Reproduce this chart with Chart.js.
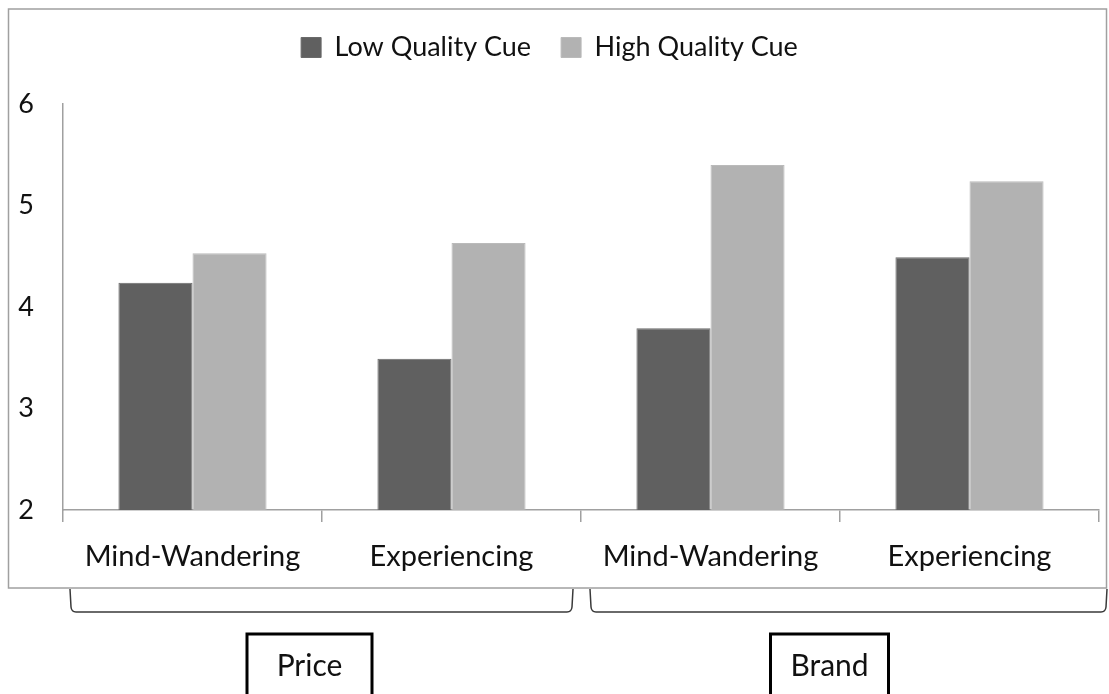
<!DOCTYPE html>
<html>
<head>
<meta charset="utf-8">
<script src="https://cdn.jsdelivr.net/npm/chart.js@4/dist/chart.umd.min.js"></script>
<style>
  html, body { margin: 0; padding: 0; background: #ffffff; }
  #wrap { width: 1109px; height: 694px; }
</style>
</head>
<body>
<div id="wrap"><canvas id="c" width="1109" height="694"></canvas></div>
<script>
// ---- data ----
const categories = ["Mind-Wandering", "Experiencing", "Mind-Wandering", "Experiencing"];
const lowQualityCue = [4.24, 3.49, 3.79, 4.49];
const highQualityCue = [4.53, 4.63, 5.40, 5.24];
const seriesNames = ["Low Quality Cue", "High Quality Cue"];
const groupLabels = ["Price", "Brand"];
const groupRanges = [[0, 1], [2, 3]];
const yTicks = [2, 3, 4, 5, 6];

const FONT = "Lato, 'Open Sans', sans-serif";
const TEXT = "#111111";
const AXIS = "#a0a0a0";

const framePlugin = {
  id: 'frame',
  afterInit(chart) {
    if (chart.legend) {
      const orig = chart.legend.fit;
      chart.legend.fit = function () { orig.call(this); this.height = 100; };
    }
  },
  beforeDraw(chart) {
    const ctx = chart.ctx;
    ctx.save();
    ctx.fillStyle = '#ffffff';
    ctx.fillRect(0, 0, chart.width, chart.height);
    ctx.strokeStyle = AXIS;
    ctx.lineWidth = 1.5;
    ctx.strokeRect(8.5, 9, 1098, 579);
    ctx.restore();
  },
  afterDraw(chart) {
    const ctx = chart.ctx;
    const xs = chart.scales.x;
    const half = (xs.getPixelForValue(1) - xs.getPixelForValue(0)) / 2;
    const boxOffsets = [-12, -19];
    const boxWidths = [125, 118];
    ctx.save();
    groupRanges.forEach((r, gi) => {
      const left = xs.getPixelForValue(r[0]) - half + (gi === 0 ? 7 : 9);
      const right = xs.getPixelForValue(r[1]) + half + (gi === 0 ? -8 : 8);
      const top = 589, bot = 612;
      ctx.strokeStyle = '#3a3a3a';
      ctx.lineWidth = 1.5;
      ctx.beginPath();
      ctx.moveTo(left, top);
      ctx.lineTo(left + 1, bot - 5);
      ctx.quadraticCurveTo(left + 1.5, bot, left + 6, bot);
      ctx.lineTo(right - 6, bot);
      ctx.quadraticCurveTo(right - 1.5, bot, right - 1, bot - 5);
      ctx.lineTo(right, top);
      ctx.stroke();
      // label box
      const cx = (left + right) / 2 + boxOffsets[gi];
      const w = boxWidths[gi];
      ctx.strokeStyle = '#000000';
      ctx.lineWidth = 3;
      ctx.strokeRect(cx - w / 2, 634, w, 80);
      ctx.fillStyle = TEXT;
      ctx.font = "30px " + FONT;
      ctx.textAlign = 'center';
      ctx.textBaseline = 'middle';
      ctx.fillText(groupLabels[gi], cx, 666);
    });
    ctx.restore();
  }
};

new Chart(document.getElementById('c'), {
  type: 'bar',
  data: {
    labels: categories,
    datasets: [
      { label: seriesNames[0], data: lowQualityCue, backgroundColor: '#606060', borderColor: '#6a6a6a', borderWidth: 1, barPercentage: 1, categoryPercentage: 0.572 },
      { label: seriesNames[1], data: highQualityCue, backgroundColor: '#b2b2b2', borderColor: '#bababa', borderWidth: 1, barPercentage: 1, categoryPercentage: 0.572 }
    ]
  },
  options: {
    responsive: false,
    animation: false,
    devicePixelRatio: 1,
    layout: { padding: { left: 0, right: 10, top: 4, bottom: 0 } },
    plugins: {
      legend: {
        display: true,
        position: 'top',
        labels: {
          font: { family: FONT, size: 27 },
          color: TEXT,
          boxWidth: 20,
          boxHeight: 20,
          padding: 30
        }
      },
      tooltip: { enabled: false },
      title: { display: false }
    },
    scales: {
      x: {
        grid: { display: true, drawOnChartArea: false, drawTicks: true, tickLength: 12, color: AXIS, lineWidth: 1.5, offset: true },
        border: { display: true, color: AXIS, width: 1.5 },
        ticks: { font: { family: FONT, size: 29 }, color: TEXT, padding: 17, maxRotation: 0 },
        afterFit(s) { s.height = 694 - 510; }
      },
      y: {
        min: 2, max: 6,
        afterBuildTicks(s) { s.ticks = yTicks.map(v => ({ value: v })); },
        grid: { display: false, drawTicks: false },
        border: { display: true, color: AXIS, width: 1.5 },
        ticks: { font: { family: FONT, size: 27 }, color: TEXT, padding: 29 },
        afterFit(s) { s.width = 63; }
      }
    }
  },
  plugins: [framePlugin]
});
</script>
</body>
</html>
